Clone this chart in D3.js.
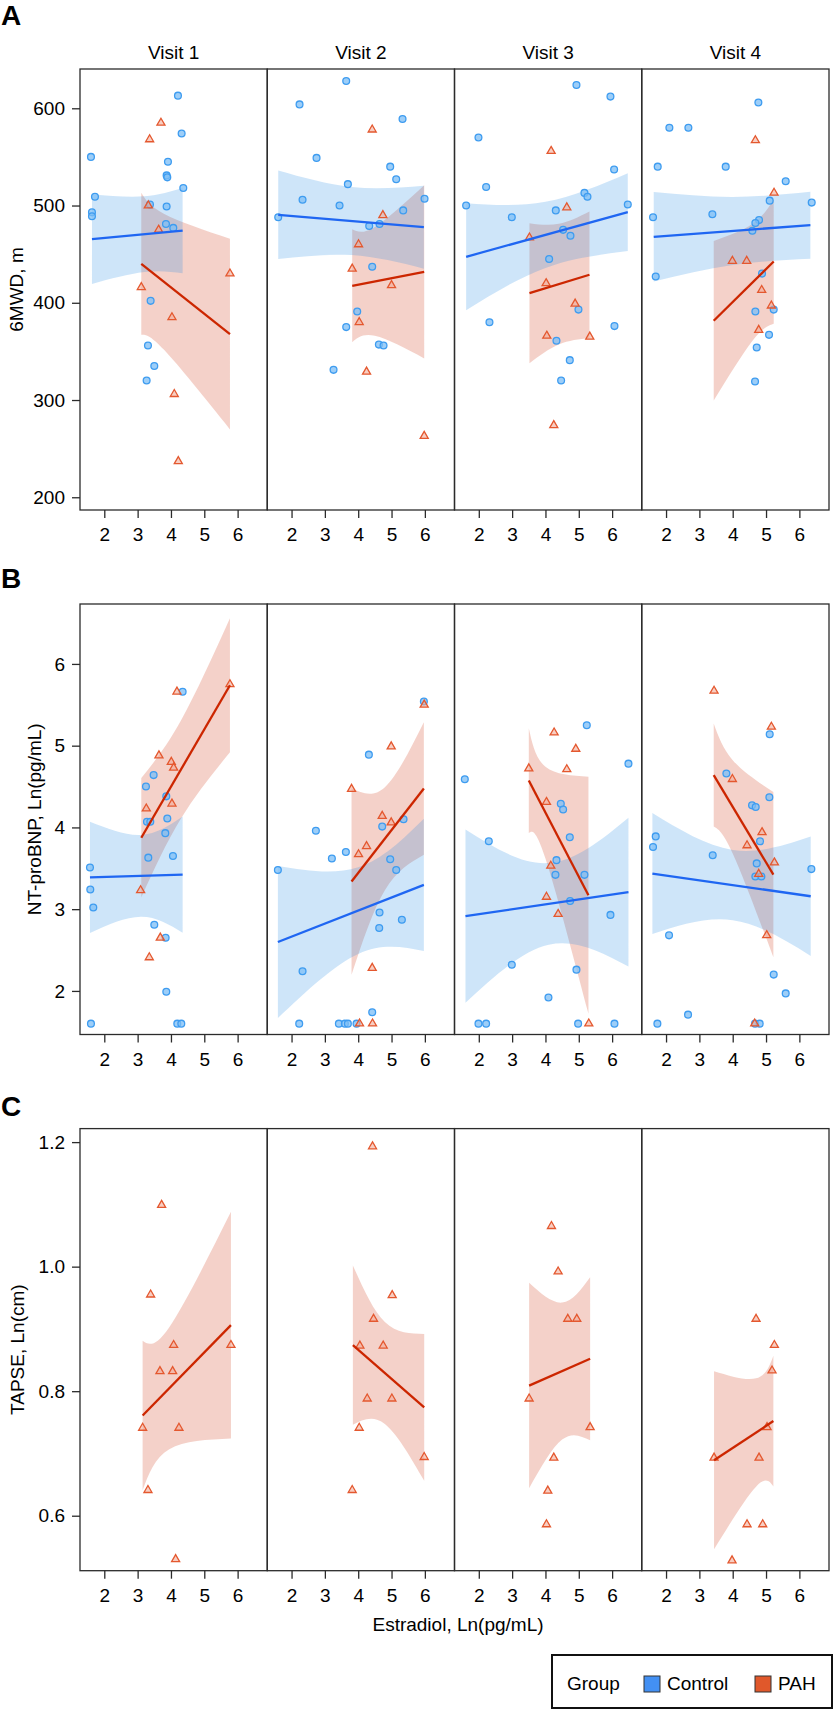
<!DOCTYPE html>
<html><head><meta charset="utf-8">
<script src="https://cdn.jsdelivr.net/npm/d3@7"></script>
<style>
body{margin:0;background:#fff}
svg{display:block}
text{font-family:"Liberation Sans",Arial,Helvetica,sans-serif;fill:#000}
</style>
</head><body><svg id="chart" width="834" height="1710"></svg>
<script>
// ---------------- DATA ----------------
const visits = ["Visit 1","Visit 2","Visit 3","Visit 4"];
const groups = ["Control","PAH"];
const xTicks = [2,3,4,5,6];
const sixmwdTicks = [200,300,400,500,600];
const ntTicks = [2,3,4,5,6];
const tapseTicks = [0.6,0.8,1.0,1.2];

// [estradiol Ln(pg/mL), value] per visit
const sixmwdControl = [
 [[4.21,613],[4.32,574],[1.60,550],[3.91,545],[1.72,509],[3.87,531],[3.89,529],[4.37,518],[1.63,493],[1.63,489],[3.37,501],[3.87,499],[3.85,481],[4.07,477],[3.39,402],[3.31,356],[3.50,335],[3.27,320]],
 [[3.64,628],[2.24,604],[5.33,589],[2.75,549],[4.96,540],[5.14,527],[3.69,522],[2.33,506],[5.99,507],[3.44,500],[1.60,488],[5.35,495],[4.33,479],[4.64,481],[4.42,437],[3.97,391],[3.64,375],[4.62,357],[4.76,356],[3.26,331]],
 [[4.93,624],[5.95,612],[1.99,570],[6.06,537],[2.22,519],[5.17,513],[5.26,509],[1.62,500],[6.47,501],[4.31,495],[2.99,488],[4.53,475],[4.75,469],[4.11,445],[4.99,393],[2.32,380],[6.07,376],[4.33,361],[4.73,341],[4.47,320]],
 [[4.77,606],[2.10,580],[2.67,580],[1.75,540],[3.79,540],[5.59,525],[5.11,505],[6.37,503],[1.61,488],[3.39,491],[4.79,485],[4.68,482],[4.59,474],[1.69,427],[4.88,430],[4.68,391],[5.23,393],[5.09,367],[4.72,354],[4.67,319]]
];
const sixmwdPAH = [
 [[3.70,585],[3.36,568],[3.32,500],[3.63,475],[3.11,416],[4.03,385],[5.77,430],[4.10,306],[4.22,237]],
 [[4.42,578],[4.74,490],[4.01,460],[3.82,435],[5.00,418],[4.03,380],[4.25,329],[5.98,263]],
 [[4.17,556],[4.64,498],[3.52,467],[4.02,420],[4.89,399],[4.04,366],[5.33,365],[4.25,274]],
 [[4.68,567],[5.24,513],[3.99,443],[4.42,443],[4.87,413],[5.16,397],[4.78,372]]
];
const ntControl = [
 [[4.35,5.66],[3.48,4.64],[3.25,4.50],[3.86,4.38],[3.89,4.11],[3.28,4.07],[3.38,4.07],[3.83,3.93],[3.32,3.63],[4.06,3.65],[1.57,3.51],[1.58,3.24],[1.67,3.02],[3.50,2.81],[3.84,2.65],[3.86,1.99],[1.60,1.60],[4.19,1.60],[4.31,1.60]],
 [[5.97,5.54],[4.32,4.89],[5.36,4.10],[4.72,4.01],[2.73,3.96],[3.63,3.70],[3.21,3.62],[1.59,3.48],[4.96,3.61],[5.14,3.48],[4.64,2.96],[5.31,2.87],[4.63,2.77],[2.33,2.24],[4.42,1.74],[2.23,1.60],[3.42,1.60],[3.60,1.60],[3.69,1.60],[3.95,1.60]],
 [[5.24,5.25],[6.49,4.78],[1.58,4.59],[4.46,4.29],[4.53,4.22],[4.73,3.88],[2.30,3.83],[4.33,3.60],[4.30,3.42],[5.17,3.42],[4.74,3.10],[5.95,2.93],[2.99,2.32],[4.93,2.26],[4.09,1.92],[1.99,1.60],[2.22,1.60],[4.98,1.60],[6.07,1.60]],
 [[5.11,5.14],[3.81,4.66],[5.10,4.37],[4.58,4.27],[4.69,4.25],[1.69,3.89],[4.82,3.83],[1.61,3.76],[3.40,3.66],[4.72,3.56],[6.36,3.49],[4.68,3.40],[4.86,3.40],[2.09,2.68],[5.23,2.20],[5.59,1.97],[2.66,1.71],[1.74,1.60],[4.67,1.60],[4.81,1.60]]
];
const ntPAH = [
 [[4.18,5.66],[5.77,5.75],[3.64,4.88],[4.01,4.80],[4.08,4.73],[3.26,4.23],[4.03,4.29],[3.09,3.23],[3.68,2.65],[3.35,2.41]],
 [[5.98,5.50],[4.99,4.99],[3.80,4.47],[4.72,4.14],[4.99,4.06],[4.25,3.77],[4.01,3.67],[4.42,2.28],[4.04,1.60],[4.43,1.60]],
 [[4.26,5.16],[4.91,4.96],[3.50,4.72],[4.64,4.71],[4.03,4.31],[4.16,3.53],[4.03,3.15],[4.38,2.94],[5.30,1.60]],
 [[3.44,5.67],[5.16,5.23],[3.99,4.59],[4.88,3.94],[4.43,3.78],[5.25,3.57],[4.78,3.43],[5.02,2.68],[4.66,1.60]]
];
const tapsePAH = [
 [[3.72,1.099],[3.39,0.955],[4.08,0.874],[5.80,0.874],[3.67,0.832],[4.05,0.832],[3.15,0.741],[4.24,0.741],[3.31,0.641],[4.14,0.530]],
 [[4.43,1.193],[5.02,0.954],[4.46,0.916],[4.05,0.873],[4.75,0.873],[4.27,0.788],[5.01,0.788],[4.03,0.741],[5.98,0.694],[3.82,0.641]],
 [[4.18,1.065],[4.38,0.992],[4.67,0.916],[4.94,0.916],[3.51,0.788],[5.34,0.742],[4.25,0.693],[4.07,0.640],[4.03,0.586]],
 [[4.70,0.916],[5.25,0.874],[5.18,0.833],[5.03,0.742],[3.44,0.693],[4.79,0.693],[4.43,0.586],[4.90,0.586],[3.98,0.528]]
];

// Fitted lines [x0, y0, x1, y1] and confidence half-widths [[x, halfwidth], ...]
const sixmwdControlLine = [[1.63,465.4,4.35,474.3],[1.60,490.4,5.97,477.7],[1.62,447.3,6.47,493.2],[1.63,467.8,6.33,479.8]];
const sixmwdControlCI = [[[1.63,46],[3.2,39],[4.35,44]],[[1.6,45.5],[3.8,35],[5.97,42.6]],[[1.62,55],[4.0,34],[6.47,40]],[[1.63,46],[4.0,35],[6.33,34.4]]];
const sixmwdPAHLine = [[3.11,440.1,5.77,367.8],[3.82,417.5,5.98,431.8],[3.52,409.9,5.32,428.8],[3.43,381.5,5.23,442.5]];
const sixmwdPAHCI = [[[3.11,73],[3.8,70],[5.77,98]],[[3.82,58],[4.5,56],[5.98,89]],[[3.52,72],[4.4,62],[5.32,65]],[[3.43,82],[4.6,60],[5.23,64]]];
const ntControlLine = [[1.57,3.389,4.35,3.423],[1.59,2.598,5.97,3.297],[1.60,2.914,6.49,3.208],[1.59,3.436,6.34,3.158]];
const ntControlCI = [[[1.57,0.68],[3.1,0.5],[4.35,0.71]],[[1.59,0.93],[4.0,0.53],[5.97,0.81]],[[1.6,1.06],[4.1,0.5],[6.49,0.91]],[[1.59,0.74],[4.0,0.43],[6.34,0.73]]];
const ntPAHLine = [[3.11,3.874,5.77,5.739],[3.80,3.339,5.97,4.476],[3.50,4.573,5.29,3.171],[3.43,4.64,5.22,3.423]];
const ntPAHCI = [[[3.11,0.73],[4.3,0.6],[5.77,0.82]],[[3.8,1.14],[4.8,0.63],[5.97,0.81]],[[3.5,0.64],[4.0,0.56],[5.29,1.45]],[[3.43,0.63],[4.0,0.57],[5.22,1.01]]];
const tapsePAHLine = [[3.15,0.761,5.80,0.906],[3.84,0.874,5.98,0.774],[3.51,0.809,5.34,0.852],[3.44,0.689,5.22,0.752]];
const tapsePAHCI = [[[3.15,0.12],[3.95,0.098],[5.8,0.182]],[[3.84,0.128],[4.8,0.082],[5.98,0.118]],[[3.51,0.165],[4.5,0.11],[5.34,0.131]],[[3.44,0.143],[4.7,0.087],[5.22,0.105]]];

// ---------------- STYLE / LAYOUT ----------------
const colors = {
  Control:{pointFill:"#7cbdf6", pointStroke:"#3e9cf0", line:"#1f66f2", band:"#1e88e5", bandOp:0.22, legend:"#4390f3"},
  PAH:{pointFill:"#f3a58f", pointStroke:"#e4582f", line:"#cc2600", band:"#d2401e", bandOp:0.24, legend:"#e0582b"}
};
const FONT = 19;
const panelLeft = 80, panelW = 187.25;
const xDomain = [1.271, 6.889];

const rows = [
  {label:"A", labelY:25, top:69, bottom:510, domain:[186.9,640.4], ticks:sixmwdTicks, fmt:d3.format("d"),
   title:"6MWD, m", titleX:23, strip:true,
   series:[{g:"Control", pts:sixmwdControl, line:sixmwdControlLine, ci:sixmwdControlCI},
           {g:"PAH", pts:sixmwdPAH, line:sixmwdPAHLine, ci:sixmwdPAHCI}]},
  {label:"B", labelY:588, top:604, bottom:1034.5, domain:[1.467,6.733], ticks:ntTicks, fmt:d3.format("d"),
   title:"NT-proBNP, Ln(pg/mL)", titleX:41, strip:false,
   series:[{g:"Control", pts:ntControl, line:ntControlLine, ci:ntControlCI},
           {g:"PAH", pts:ntPAH, line:ntPAHLine, ci:ntPAHCI}]},
  {label:"C", labelY:1116, top:1128.6, bottom:1570.7, domain:[0.5117,1.2217], ticks:tapseTicks, fmt:d3.format(".1f"),
   title:"TAPSE, Ln(cm)", titleX:24, strip:false,
   series:[{g:"PAH", pts:tapsePAH, line:tapsePAHLine, ci:tapsePAHCI}]}
];

const svg = d3.select("#chart");
svg.append("rect").attr("width",834).attr("height",1710).attr("fill","#fff");

rows.forEach((row, ri) => {
  const y = d3.scaleLinear().domain(row.domain).range([row.bottom, row.top]);
  svg.append("text").attr("x",1).attr("y",row.labelY).attr("font-size",28).attr("font-weight","bold").text(row.label);
  svg.append("text")
    .attr("transform",`translate(${row.titleX},${(row.top+row.bottom)/2}) rotate(-90)`)
    .attr("text-anchor","middle").attr("font-size",FONT).text(row.title);

  visits.forEach((v, vi) => {
    const left = panelLeft + vi*panelW;
    const x = d3.scaleLinear().domain(xDomain).range([left, left+panelW]);
    const g = svg.append("g");
    const clipId = `clip-${ri}-${vi}`;
    g.append("clipPath").attr("id",clipId).append("rect")
      .attr("x",left).attr("y",row.top).attr("width",panelW).attr("height",row.bottom-row.top);
    const inner = g.append("g").attr("clip-path",`url(#${clipId})`);

    const order = row.series.slice().sort((a,b)=> a.g==="PAH" ? -1 : 1);
    order.forEach(s => {
      const [x0,y0,x1,y1] = s.line[vi];
      const f = t => y0 + (y1-y0)*(t-x0)/(x1-x0);
      const band = s.ci[vi].map(([t,h]) => ({x:t, lo:f(t)-h, hi:f(t)+h}));
      inner.append("path").datum(band)
        .attr("d", d3.area().x(d=>x(d.x)).y0(d=>y(d.lo)).y1(d=>y(d.hi)).curve(d3.curveNatural))
        .attr("fill", colors[s.g].band).attr("fill-opacity", colors[s.g].bandOp);
    });
    row.series.forEach(s => {
      const c = colors[s.g];
      if (s.g === "Control") {
        inner.append("g").selectAll("circle").data(s.pts[vi]).join("circle")
          .attr("cx",d=>x(d[0])).attr("cy",d=>y(d[1])).attr("r",3.4)
          .attr("fill",c.pointFill).attr("fill-opacity",0.75)
          .attr("stroke",c.pointStroke).attr("stroke-width",1.3);
      } else {
        inner.append("g").selectAll("path").data(s.pts[vi]).join("path")
          .attr("d", d3.symbol(d3.symbolTriangle, 28))
          .attr("transform",d=>`translate(${x(d[0])},${y(d[1])})`)
          .attr("fill",c.pointFill).attr("fill-opacity",0.55)
          .attr("stroke",c.pointStroke).attr("stroke-width",1.3);
      }
    });
    row.series.forEach(s => {
      const [x0,y0,x1,y1] = s.line[vi];
      inner.append("line").attr("x1",x(x0)).attr("y1",y(y0)).attr("x2",x(x1)).attr("y2",y(y1))
        .attr("stroke",colors[s.g].line).attr("stroke-width",2.3);
    });
    g.append("rect").attr("x",left).attr("y",row.top).attr("width",panelW).attr("height",row.bottom-row.top)
      .attr("fill","none").attr("stroke","#2b2b2b").attr("stroke-width",1.3);
    const xa = g.append("g").attr("transform",`translate(0,${row.bottom})`)
      .call(d3.axisBottom(x).tickValues(xTicks).tickSize(8).tickPadding(10).tickFormat(d3.format("d")));
    xa.select(".domain").remove();
    xa.selectAll("line").attr("stroke","#2b2b2b").attr("stroke-width",1.3);
    xa.selectAll("text").attr("font-size",FONT).attr("font-family",null).attr("fill","#000");
    if (row.strip) {
      svg.append("text").attr("x",left+panelW/2).attr("y",59).attr("text-anchor","middle")
        .attr("font-size",FONT).text(v);
    }
    if (vi === 0) {
      const ya = g.append("g").attr("transform",`translate(${left},0)`)
        .call(d3.axisLeft(y).tickValues(row.ticks).tickSize(8).tickPadding(7).tickFormat(row.fmt));
      ya.select(".domain").remove();
      ya.selectAll("line").attr("stroke","#2b2b2b").attr("stroke-width",1.3);
      ya.selectAll("text").attr("font-size",FONT).attr("font-family",null).attr("fill","#000");
    }
  });
});

svg.append("text").attr("x",458).attr("y",1631).attr("text-anchor","middle").attr("font-size",FONT)
  .text("Estradiol, Ln(pg/mL)");

const lg = svg.append("g");
lg.append("rect").attr("x",552).attr("y",1655).attr("width",280).attr("height",53)
  .attr("fill","#fff").attr("stroke","#111").attr("stroke-width",2);
lg.append("text").attr("x",567).attr("y",1690).attr("font-size",FONT).text("Group");
const legendX = [644, 755];
groups.forEach((gname, i) => {
  lg.append("rect").attr("x",legendX[i]).attr("y",1676).attr("width",16).attr("height",16)
    .attr("fill",colors[gname].legend).attr("stroke","#333").attr("stroke-width",1);
  lg.append("text").attr("x",legendX[i]+23).attr("y",1690).attr("font-size",FONT).text(gname);
});
</script>
</body></html>
